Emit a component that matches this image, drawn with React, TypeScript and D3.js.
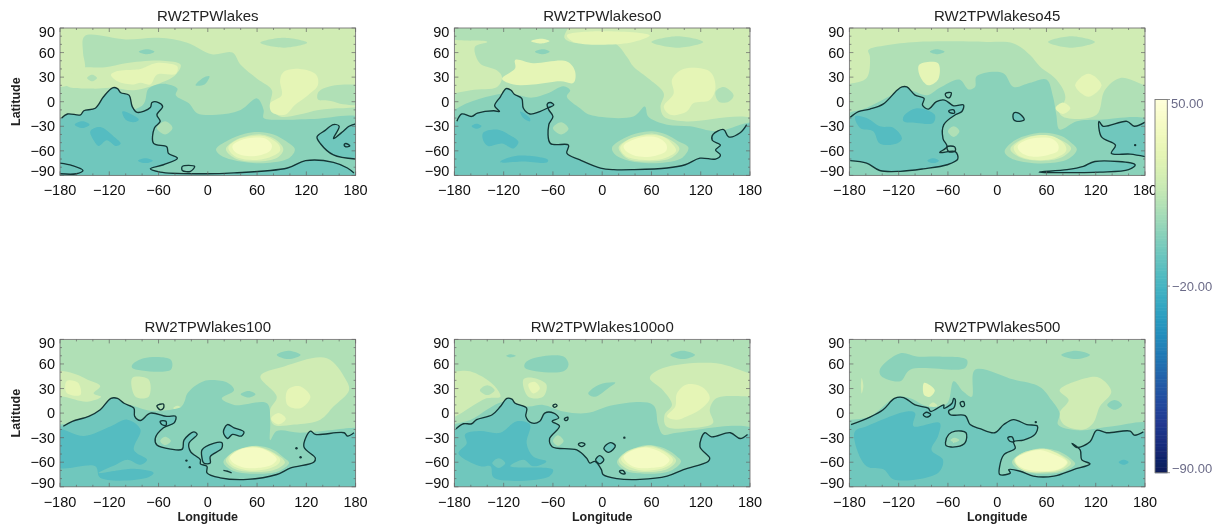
import * as d3 from "d3";

type Ring = [number, number][];
type Band = [number, Ring];

const lonTicks = [-180, -120, -60, 0, 60, 120, 180];
const latTicks = [90, 60, 30, 0, -30, -60, -90];
const barTicks = [50, -20, -90];

// RW2TPWlakes
const lakesCoastW: Ring = [[-178,-20],[-171,-15],[-155,-16],[-151,-11],[-137,-8],[-127,6],[-116,17],[-110,16],[-106,11],[-96,8],[-92,-6],[-86,-13],[-70,-7],[-68,-1],[-60,-1],[-55,-6],[-62,-16],[-58,-24],[-65,-32],[-66,-51],[-50,-55],[-48,-63],[-37,-69],[-54,-77],[-70,-82],[-58,-86],[-9,-88],[32,-87],[97,-81],[119,-72],[153,-74],[170,-81],[178,-87]];
const lakesCoastE: Ring = [[180,-70],[153,-65],[137,-51],[133,-43],[143,-35],[153,-28],[160,-30],[153,-45],[165,-36],[172,-30],[180,-27]];
const lakesLobe: Ring = [[-180,-75],[-165,-78],[-152,-84],[-160,-88],[-180,-88]];
const lakesIslands: Ring[] = [[[-31,-79],[-16,-79],[-21,-85],[-31,-84]],[[168,-51],[173,-54],[168,-55],[166,-53]]];
const lakesBands: Band[] = [
  [10, [[-150,80],[-100,76],[-60,78],[-25,72],[5,58],[30,60],[40,45],[60,28],[78,14],[76,-5],[88,-18],[110,-16],[135,-10],[165,-8],[190,-10],[190,-100],[-190,-100],[-190,14],[-170,20],[-150,40],[-152,60]]],
  [20, [[-172,20],[-140,16],[-118,17],[-90,14],[-72,18],[-60,22],[-40,32],[-33,45],[-55,50],[-100,47],[-125,42],[-150,42],[-160,40]]],
  [30, [[-118,33],[-112,37],[-92,39],[-82,40],[-64,47],[-50,47],[-37,43],[-39,34],[-62,33],[-70,21],[-82,23],[-90,21],[-110,25]]],
  [10, [[-147,29],[-141,33],[-135,29],[-141,25]]],
  [10, [[190,17],[155,20],[135,12],[134,3],[150,1],[165,-3],[190,-2]]],
  [30, [[88,26],[92,36],[112,40],[132,33],[134,20],[122,8],[106,-4],[94,-16],[78,-13],[76,-2],[90,8]]],
  [10, [[64,72],[92,78],[121,72],[92,66]]],
  [0, [[-80,-5],[-72,16],[-54,22],[-37,16],[-39,8],[-23,-2],[-13,-14],[11,-16],[40,-10],[60,4],[68,-10],[68,-20],[85,-22],[130,-21],[190,-22],[190,-100],[-190,-100],[-190,-30]]],
  [0, [[-84,61],[-74,64],[-65,61],[-74,58]]],
  [0, [[-15,20],[-6,29],[2,31],[-4,21]]],
  [-7, [...lakesCoastW, [190,-90],[190,-100],[-190,-100],[-190,-20]]],
  [-7, [...lakesCoastE, [190,-27],[190,-70]]],
  [10, [[-62,-32],[-52,-24],[-43,-32],[-52,-40]]],
  [-15, [[-162,-28],[-153,-24],[-144,-28],[-153,-32]]],
  [-15, [[-143,-36],[-131,-31],[-114,-43],[-106,-51],[-112,-54],[-123,-47],[-133,-54],[-139,-47]]],
  [-15, [[-104,-12],[-92,-16],[-84,-22],[-90,-25],[-100,-22]]],
  [-15, [[-85,-72],[-76,-69],[-67,-72],[-76,-75]]],
  [10, [[10,-58],[25,-47],[45,-39],[62,-37],[80,-40],[95,-48],[106,-58],[100,-68],[80,-74],[55,-75],[30,-71],[15,-65]]],
  [20, [[22,-58],[32,-48],[48,-42],[65,-40],[82,-46],[92,-58],[85,-68],[60,-73],[35,-70]]],
  [30, [[25,-56],[35,-47],[55,-42],[72,-43],[86,-52],[88,-60],[75,-68],[50,-71],[32,-66]]],
  [40, [[30,-54],[40,-47],[55,-44],[70,-45],[78,-53],[76,-60],[65,-65],[45,-66],[33,-61]]],
];

// RW2TPWlakeso0
const o0Coast: Ring = [[-177,-24],[-171,-15],[-159,-18],[-152,-14],[-132,-11],[-125,-12],[-131,-5],[-124,6],[-117,16],[-111,14],[-107,9],[-98,4],[-96,-8],[-88,-15],[-76,-12],[-67,-8],[-59,-4],[-63,-1],[-67,-3],[-65,-10],[-60,-18],[-65,-28],[-63,-51],[-41,-53],[-43,-63],[-27,-71],[-2,-81],[14,-83],[38,-83],[79,-81],[101,-77],[119,-69],[138,-70],[144,-65],[138,-59],[144,-53],[134,-47],[135,-40],[148,-34],[154,-43],[168,-38],[176,-28]];
const o0Bands: Band[] = [
  [10, [[-190,100],[-40,100],[-46,78],[-35,72],[14,72],[30,55],[38,43],[58,27],[75,10],[71,-6],[75,-18],[100,-24],[190,-24],[190,-100],[-190,-100],[-190,3],[-160,14],[-128,18],[-122,30],[-128,38],[-149,47],[-155,67],[-140,73],[-190,79]]],
  [30, [[-122,28],[-106,41],[-106,51],[-84,47],[-43,49],[-33,37],[-35,23],[-51,25],[-84,21],[-108,21]]],
  [30, [[-43,81],[-3,86],[58,81],[34,72],[-35,73]]],
  [30, [[-87,74],[-74,77],[-64,74],[-74,71]]],
  [0, [[-82,61],[-72,64],[-64,61],[-72,58]]],
  [30, [[85,27],[99,40],[131,37],[138,18],[131,2],[111,-2],[103,-12],[83,-16],[75,-6],[87,10]]],
  [10, [[138,12],[148,18],[160,8],[154,0],[142,0]]],
  [10, [[60,73],[92,80],[123,73],[92,66]]],
  [0, [[-190,-20],[-120,10],[-85,5],[-67,10],[-47,19],[-39,14],[-43,6],[-27,-8],[-15,-16],[38,-18],[52,-6],[56,-18],[79,-28],[107,-30],[140,-36],[176,-26],[190,-25],[190,-100],[-190,-100]]],
  [-7, [...o0Coast, [190,-25],[190,-100],[-190,-100],[-190,-24]]],
  [10, [[-60,-32],[-50,-25],[-41,-33],[-50,-40]]],
  [-15, [[-159,-30],[-153,-27],[-147,-30],[-153,-33]]],
  [-15, [[-145,-38],[-128,-34],[-114,-40],[-102,-49],[-108,-57],[-122,-51],[-139,-54],[-145,-47]]],
  [-15, [[-124,-73],[-104,-66],[-66,-71],[-67,-74],[-96,-73],[-124,-74]]],
  [-15, [[-100,-12],[-88,-20],[-88,-24],[-96,-20]]],
  [10, [[12,-56],[26,-45],[45,-38],[60,-36],[78,-40],[92,-48],[105,-56],[98,-68],[78,-74],[52,-75],[28,-71],[15,-64]]],
  [20, [[20,-56],[30,-47],[48,-41],[62,-39],[80,-45],[94,-57],[85,-68],[58,-73],[30,-69]]],
  [30, [[22,-56],[33,-46],[52,-41],[72,-42],[84,-50],[90,-60],[76,-69],[48,-71],[28,-66]]],
  [40, [[26,-54],[36,-47],[50,-43],[68,-44],[78,-52],[78,-60],[65,-66],[45,-67],[30,-61]]],
];

// RW2TPWlakeso45
const o45CoastW: Ring = [[-179,-19],[-169,-12],[-155,-9],[-139,-3],[-122,14],[-116,18],[-110,18],[-100,8],[-89,4],[-91,-4],[-84,-9],[-74,0],[-64,2],[-53,-5],[-41,-4],[-43,-12],[-51,-16],[-65,-28],[-66,-45],[-61,-55],[-70,-62],[-51,-61],[-48,-70],[-61,-77],[-90,-82],[-118,-85],[-143,-84],[-159,-75],[-179,-72]];
const o45CoastE: Ring = [[180,-67],[162,-64],[139,-63],[144,-53],[127,-43],[124,-24],[129,-30],[158,-24],[167,-30],[180,-25]];
const o45South: Ring = [[51,-86],[85,-83],[105,-79],[119,-73],[168,-77],[160,-83],[125,-86]];
const o45Gulf: Ring = [[20,-14],[26,-14],[33,-22],[24,-24],[20,-22]];
const o45Islands: Ring[] = [[[-61,-55],[-52,-55],[-51,-60],[-59,-61]],[[-63,10],[-56,11],[-58,5],[-62,6]],[[-59,-11],[-53,-10],[-52,-14],[-58,-13]],o45Gulf,o45South];
const o45Bands: Band[] = [
  [10, [[-157,63],[-135,69],[-98,73],[-13,73],[20,71],[40,57],[52,43],[72,27],[83,6],[76,-14],[85,-20],[121,-16],[131,14],[150,29],[180,20],[190,18],[190,-100],[-190,-100],[-190,20],[-179,22],[-159,29],[-155,55]]],
  [30, [[-95,45],[-72,47],[-72,27],[-84,20],[-94,31]]],
  [10, [[62,73],[90,80],[119,73],[90,66]]],
  [0, [[-82,61],[-74,64],[-64,61],[-74,58]]],
  [30, [[95,20],[111,34],[127,20],[111,6]]],
  [30, [[71,-8],[80,-1],[89,-8],[80,-15]]],
  [0, [[-25,31],[7,35],[20,18],[40,23],[60,27],[68,6],[72,-16],[76,-34],[97,-24],[125,-22],[190,-25],[190,-100],[-190,-100],[-190,-20],[-160,-8],[-110,14],[-85,8],[-70,17],[-46,27],[-35,15],[-27,18]]],
  [-7, [...o45CoastW, [-190,-72],[-190,-19]]],
  [-7, [...o45CoastE, [190,-25],[190,-67]]],
  [-7, o45Gulf],
  [-7, o45South],
  [10, [[-60,-36],[-53,-30],[-46,-36],[-53,-43]]],
  [-15, [[-173,-18],[-159,-20],[-143,-30],[-126,-32],[-116,-45],[-122,-51],[-143,-51],[-151,-36],[-167,-32]]],
  [-15, [[-114,-18],[-98,-8],[-76,-16],[-78,-26],[-98,-26],[-114,-24]]],
  [-15, [[-85,-72],[-78,-69],[-71,-72],[-78,-75]]],
  [10, [[9,-61],[20,-48],[40,-40],[58,-38],[78,-42],[90,-50],[97,-58],[88,-69],[65,-75],[35,-74],[15,-68]]],
  [20, [[16,-58],[30,-46],[52,-41],[78,-47],[90,-57],[78,-68],[52,-72],[28,-68]]],
  [30, [[20,-56],[30,-47],[50,-41],[70,-43],[82,-52],[84,-60],[70,-69],[45,-71],[25,-65]]],
  [40, [[25,-54],[35,-47],[50,-44],[66,-45],[74,-52],[74,-60],[62,-65],[42,-67],[28,-61]]],
];

// RW2TPWlakes100
const l100Coast: Ring = [[-176,-16],[-165,-10],[-145,-4],[-131,4],[-118,18],[-110,18],[-102,12],[-90,6],[-89,-4],[-82,-9],[-70,0],[-50,-4],[-39,-4],[-41,-12],[-54,-18],[-64,-31],[-62,-39],[-45,-44],[-31,-44],[-29,-33],[-17,-23],[-13,-26],[-23,-37],[-21,-47],[-9,-57],[-9,-62],[-1,-65],[-1,-73],[15,-79],[48,-81],[84,-75],[101,-67],[129,-60],[131,-55],[117,-41],[125,-22],[131,-26],[166,-24],[170,-28],[178,-24]];
const l100Islands: Ring[] = [[[-62,9],[-54,11],[-54,6],[-58,4]],[[-58,-10],[-51,-10],[-51,-15],[-56,-14]],[[24,-14],[32,-18],[44,-23],[41,-28],[30,-26],[24,-31],[19,-23]],[[-7,-45],[7,-37],[17,-36],[17,-43],[3,-53],[3,-61],[-5,-61],[-7,-55]]];
const l100Bands: Band[] = [
  [20, [[-190,50],[-175,51],[-160,47],[-147,41],[-131,33],[-139,24],[-130,20],[-147,14],[-175,20],[-190,22]]],
  [30, [[-172,39],[-158,37],[-155,22],[-172,25]]],
  [20, [[-92,43],[-72,41],[-72,20],[-88,20]]],
  [20, [[-42,6],[-37,9],[-32,6],[-37,3]]],
  [20, [[64,45],[93,57],[145,67],[168,41],[172,28],[153,8],[137,-8],[105,-14],[80,-14],[76,4],[84,20]]],
  [30, [[97,28],[111,33],[125,20],[113,6],[97,10]]],
  [30, [[77,-7],[86,0],[95,-7],[86,-14]]],
  [0, [[84,71],[98,76],[113,71],[98,66]]],
  [0, [[-92,59],[-78,67],[-45,65],[-45,53],[-92,55]]],
  [0, [[-25,24],[-5,39],[24,37],[32,28],[17,18],[32,10],[72,12],[76,-12],[76,-33],[84,-22],[113,-24],[178,-18],[190,-18],[190,-100],[-190,-100],[-190,-18],[-165,-12],[-100,10],[-70,3],[-40,5],[-32,8],[-28,15]]],
  [0, [[40,23],[50,27],[58,23],[50,19]]],
  [-7, [...l100Coast, [190,-24],[190,-100],[-190,-100],[-190,-16]]],
  [-7, l100Islands[2]],
  [-7, l100Islands[3]],
  [10, [[-58,-34],[-52,-29],[-45,-34],[-52,-39]]],
  [-15, [[-185,-20],[-151,-28],[-118,-16],[-98,-8],[-82,-20],[-90,-45],[-74,-57],[-82,-63],[-98,-57],[-112,-63],[-133,-73],[-90,-68],[-66,-73],[-74,-79],[-131,-79],[-137,-65],[-185,-65]]],
  [10, [[19,-60],[30,-48],[45,-42],[60,-40],[80,-45],[92,-54],[99,-61],[86,-71],[55,-74],[30,-70]]],
  [20, [[22,-58],[32,-47],[50,-41],[62,-41],[80,-48],[94,-60],[82,-69],[55,-72],[32,-68]]],
  [30, [[25,-56],[36,-46],[54,-41],[70,-44],[88,-56],[86,-62],[74,-68],[50,-70],[30,-64]]],
  [40, [[27,-54],[38,-45],[55,-42],[70,-45],[84,-56],[78,-63],[60,-67],[42,-66],[30,-60]]],
];

// RW2TPWlakes100o0
const l100o0Coast: Ring = [[-178,-19],[-169,-13],[-159,-13],[-153,-8],[-134,-2],[-124,8],[-116,18],[-110,17],[-106,12],[-92,6],[-93,-4],[-86,-12],[-76,-10],[-70,0],[-59,0],[-53,-6],[-61,-10],[-52,-16],[-64,-31],[-61,-41],[-31,-45],[-19,-55],[-15,-61],[-9,-59],[-1,-69],[1,-75],[18,-80],[46,-81],[79,-77],[99,-69],[129,-59],[131,-55],[119,-41],[125,-24],[133,-29],[156,-24],[168,-31],[177,-26]];
const l100o0Islands: Ring[] = [[[-29,-38],[-25,-36],[-21,-38],[-25,-41]],[[2,-43],[10,-36],[16,-40],[8,-48]],[[-8,-57],[-3,-52],[2,-57],[-3,-62]],[[21,-71],[25,-70],[28,-74],[24,-74]],[[-60,9],[-57,11],[-55,9],[-58,7]],[[-46,-7],[-42,-5],[-42,-8],[-45,-9]]];
const l100o0Bands: Band[] = [
  [20, [[-190,52],[-179,51],[-161,51],[-133,35],[-124,20],[-141,18],[-179,-4],[-190,-6]]],
  [10, [[-149,28],[-140,34],[-131,28],[-140,22]]],
  [20, [[-96,41],[-84,43],[-68,35],[-72,20],[-90,20]]],
  [30, [[-90,35],[-82,38],[-76,30],[-84,24]]],
  [20, [[58,43],[74,55],[139,61],[180,49],[190,49],[190,20],[180,20],[139,18],[131,4],[135,-12],[111,-18],[78,-16],[76,-2],[85,10],[74,28]]],
  [30, [[91,24],[103,35],[123,31],[131,18],[119,4],[103,-4],[91,-8],[79,-4],[89,8]]],
  [0, [[83,71],[98,76],[113,71],[98,66]]],
  [0, [[-94,61],[-84,67],[-47,69],[-41,59],[-47,51],[-94,55]]],
  [0, [[-17,24],[-3,35],[16,37],[8,31],[-9,20]]],
  [0, [[-117,70],[-112,72],[-105,70],[-112,68]]],
  [0, [[-190,-20],[-160,-8],[-120,14],[-90,8],[-72,10],[-47,2],[-19,0],[14,10],[62,10],[68,-14],[74,-26],[91,-24],[190,-22],[190,-100],[-190,-100]]],
  [-7, [...l100o0Coast, [190,-26],[190,-100],[-190,-100],[-190,-19]]],
  [-7, l100o0Islands[1]],
  [-7, l100o0Islands[2]],
  [10, [[-60,-34],[-54,-27],[-47,-34],[-54,-40]]],
  [-15, [[-167,-26],[-150,-22],[-124,-24],[-104,-10],[-88,-14],[-92,-37],[-84,-53],[-68,-59],[-84,-65],[-96,-57],[-112,-65],[-60,-69],[-64,-77],[-132,-79],[-136,-65],[-148,-65],[-175,-49],[-165,-37]]],
  [-7, [[-134,-61],[-126,-55],[-118,-61],[-126,-67]]],
  [10, [[18,-60],[28,-48],[42,-42],[56,-39],[78,-44],[90,-52],[96,-59],[84,-70],[55,-74],[28,-70]]],
  [20, [[20,-58],[30,-47],[48,-41],[60,-40],[78,-47],[90,-58],[80,-68],[55,-72],[30,-68]]],
  [30, [[23,-56],[34,-46],[52,-41],[70,-44],[86,-56],[84,-62],[72,-68],[48,-70],[30,-64]]],
  [40, [[26,-53],[38,-45],[52,-42],[68,-46],[82,-57],[76,-64],[58,-67],[40,-66],[29,-59]]],
];

// RW2TPWlakes500
const l500Coast: Ring = [[-178,-14],[-155,-5],[-139,4],[-125,18],[-114,19],[-100,10],[-84,6],[-81,2],[-65,10],[-65,6],[-55,12],[-53,18],[-51,16],[-53,6],[-59,3],[-57,-2],[-39,-3],[-33,-14],[-21,-19],[-3,-24],[8,-14],[20,-8],[36,-14],[49,-16],[46,-26],[32,-33],[20,-35],[22,-43],[8,-51],[3,-65],[3,-75],[16,-73],[14,-69],[28,-71],[44,-77],[69,-77],[93,-69],[113,-62],[103,-57],[101,-45],[91,-37],[97,-42],[113,-35],[121,-21],[133,-24],[162,-22],[167,-27],[178,-23]];
const l500Lake: Ring = [[-63,-36],[-59,-26],[-51,-22],[-38,-24],[-39,-36],[-49,-41],[-62,-40]];
const l500Islands: Ring[] = [l500Lake,[[-90,-2],[-86,1],[-81,-2],[-86,-5]],[[-45,13],[-41,14],[-40,9],[-43,8]],[[13,-30],[18,-29],[20,-35],[15,-34]]];
const l500Bands: Band[] = [
  [0, [[-143,53],[-118,73],[-98,69],[-78,69],[-37,65],[-39,55],[-106,53],[-118,39],[-141,45]]],
  [20, [[76,28],[109,43],[125,43],[139,26],[125,8],[117,-12],[105,-20],[81,-14],[76,0],[87,16]]],
  [30, [[-89,37],[-76,28],[-82,20],[-89,22]]],
  [20, [[-83,9],[-78,13],[-73,9],[-78,5]]],
  [20, [[-165,43],[-163,33],[-165,24],[-166,33]]],
  [0, [[78,71],[96,76],[113,71],[96,66]]],
  [0, [[134,10],[143,16],[152,10],[143,4]]],
  [0, [[-27,53],[20,41],[52,32],[66,16],[76,0],[74,-14],[97,-21],[141,-16],[190,-15],[190,-100],[-190,-100],[-190,-14],[-155,-4],[-122,20],[-106,18],[-84,8],[-61,12],[-53,39],[-41,26],[-31,20]]],
  [-7, [...l500Coast, [190,-23],[190,-100],[-190,-100],[-190,-14]]],
  [-15, [[-173,-22],[-159,-16],[-110,2],[-100,0],[-102,-16],[-70,-12],[-72,-28],[-80,-45],[-66,-57],[-72,-73],[-126,-81],[-138,-69],[-159,-65],[-173,-37]]],
  [-15, [[148,-60],[154,-57],[160,-60],[154,-63]]],
  [0, l500Lake],
  [10, [[-57,-33],[-52,-30],[-46,-33],[-52,-36]]],
  [10, [[18,-60],[28,-50],[42,-45],[56,-43],[78,-48],[90,-56],[95,-62],[82,-71],[55,-74],[30,-71]]],
  [20, [[20,-58],[30,-49],[48,-44],[60,-44],[76,-50],[90,-61],[78,-70],[55,-72],[32,-69]]],
  [30, [[22,-57],[32,-49],[52,-44],[68,-47],[86,-60],[80,-67],[62,-72],[36,-71],[24,-64]]],
  [40, [[22,-56],[34,-49],[52,-45],[68,-50],[85,-60],[76,-68],[55,-71],[36,-69],[25,-63]]],
];

const colorOf = (v: number) => d3.interpolateYlGnBu((50 - v) / 140);
const fontFamily = '"Liberation Sans", Arial, sans-serif';

const lonScale = (x0: number) => d3.scaleLinear().domain([-180, 180]).range([x0, x0 + 295.6]);
const latScale = (y0: number) => d3.scaleLinear().domain([-90, 90]).range([y0 + 147.4, y0]);

interface PanelProps {
  id: string;
  title: string;
  x0: number;
  y0: number;
  base: number;
  bands: Band[];
  lines: Ring[];
  islands: Ring[];
  dots?: Ring;
  showLat?: boolean;
  showLon?: boolean;
}

function Panel({ id, title, x0, y0, base, bands, lines, islands, dots = [], showLat, showLon }: PanelProps) {
  const x = lonScale(x0);
  const y = latScale(y0);
  const closed = d3.line<[number, number]>().x((d) => x(d[0])).y((d) => y(d[1])).curve(d3.curveCatmullRomClosed.alpha(0.5));
  const open = d3.line<[number, number]>().x((d) => x(d[0])).y((d) => y(d[1])).curve(d3.curveCatmullRom.alpha(0.5));
  const minorLon = d3.range(-180, 181, 20);
  const minorLat = d3.range(-90, 91, 10);
  const bottom = y(-90);
  const top = y(90);
  const left = x(-180);
  const right = x(180);
  return (
    <g fontFamily={fontFamily}>
      <clipPath id={id}>
        <rect x={left} y={top} width={right - left} height={bottom - top} />
      </clipPath>
      <g clipPath={`url(#${id})`}>
        <rect x={left} y={top} width={right - left} height={bottom - top} fill={colorOf(base)} />
        {bands.map(([v, ring], i) => (
          <path key={i} d={closed(ring) ?? ""} fill={colorOf(v)} />
        ))}
        {lines.map((ring, i) => (
          <path key={i} d={open(ring) ?? ""} fill="none" stroke="#123536" strokeWidth={1.35} />
        ))}
        {islands.map((ring, i) => (
          <path key={i} d={closed(ring) ?? ""} fill="none" stroke="#123536" strokeWidth={1.35} />
        ))}
        {dots.map((d, i) => (
          <circle key={i} cx={x(d[0])} cy={y(d[1])} r={1.2} fill="#123536" />
        ))}
      </g>
      <rect x={left} y={top} width={right - left} height={bottom - top} fill="none" stroke="#777" strokeWidth={0.9} />
      {minorLon.map((t) => {
        const len = lonTicks.includes(t) ? 4 : 2;
        return (
          <g key={t} stroke="#666" strokeWidth={0.7}>
            <line x1={x(t)} x2={x(t)} y1={bottom} y2={bottom - len} />
            <line x1={x(t)} x2={x(t)} y1={top} y2={top + len} />
          </g>
        );
      })}
      {minorLat.map((t) => {
        const len = latTicks.includes(t) ? 4 : 2;
        return (
          <g key={t} stroke="#666" strokeWidth={0.7}>
            <line x1={left} x2={left + len} y1={y(t)} y2={y(t)} />
            <line x1={right} x2={right - len} y1={y(t)} y2={y(t)} />
          </g>
        );
      })}
      <text x={(left + right) / 2} y={y0 - 7} textAnchor="middle" fontSize={15} fill="#222">
        {title}
      </text>
      {lonTicks.map((t) => (
        <text key={t} x={x(t)} y={bottom + 20} textAnchor="middle" fontSize={14.5} fill="#111">
          {t < 0 ? `\u2212${-t}` : t}
        </text>
      ))}
      {latTicks.map((t) => (
        <text key={t} x={left - 5} y={Math.min(Math.max(y(t), top + 4), bottom - 4) + 5} textAnchor="end" fontSize={14.5} fill="#111">
          {t < 0 ? `\u2212${-t}` : t}
        </text>
      ))}
      {showLat && (
        <text transform={`translate(${left - 40},${y(0)}) rotate(-90)`} textAnchor="middle" fontSize={12.5} fontWeight="bold" fill="#222">
          Latitude
        </text>
      )}
      {showLon && (
        <text x={(left + right) / 2} y={bottom + 34} textAnchor="middle" fontSize={12.5} fontWeight="bold" fill="#222">
          Longitude
        </text>
      )}
    </g>
  );
}

function ColorBar() {
  const y = d3.scaleLinear().domain([-90, 50]).range([472.7, 99.5]);
  const cells = d3.range(-90, 50, 1);
  return (
    <g fontFamily={fontFamily}>
      {cells.map((v) => (
        <rect key={v} x={1155} y={y(v + 1)} width={12.3} height={y(v) - y(v + 1) + 0.5} fill={colorOf(v + 0.5)} />
      ))}
      <rect x={1155} y={99.5} width={12.3} height={373.2} fill="none" stroke="#777" strokeWidth={0.9} />
      {barTicks.map((t) => (
        <g key={t}>
          <line x1={1167.3} x2={1170} y1={y(t)} y2={y(t)} stroke="#777" strokeWidth={0.8} />
          <text x={t === 50 ? 1171 : 1172} y={y(t) + (t === 50 ? 8 : t === -90 ? 0 : 5)} fontSize={13} fill="#6b6b88">
            {t < 0 ? `\u2212${(-t).toFixed(2)}` : t.toFixed(2)}
          </text>
        </g>
      ))}
    </g>
  );
}

export default function App() {
  return (
    <svg width={1218} height={526} style={{ position: "absolute", left: 0, top: 0, background: "#fff" }}>
      <defs>
        <filter id="soft" x="0" y="0" width="100%" height="100%">
          <feGaussianBlur stdDeviation="0.55" />
        </filter>
      </defs>
      <g filter="url(#soft)">
        <Panel id="p1" title="RW2TPWlakes" x0={60} y0={28} base={20} bands={lakesBands} lines={[lakesCoastW, lakesCoastE, lakesLobe]} islands={lakesIslands} showLat />
        <Panel id="p2" title="RW2TPWlakeso0" x0={454.4} y0={28} base={20} bands={o0Bands} lines={[o0Coast]} islands={[]} />
        <Panel id="p3" title="RW2TPWlakeso45" x0={849.4} y0={28} base={20} bands={o45Bands} lines={[o45CoastW, o45CoastE]} islands={o45Islands} dots={[[168, -53]]} />
        <Panel id="p4" title="RW2TPWlakes100" x0={60} y0={339.4} base={10} bands={l100Bands} lines={[l100Coast, [[19, -70], [24, -71], [29, -73]]]} islands={l100Islands} dots={[[108, -43], [113, -54], [-26, -58], [-22, -66]]} showLat showLon />
        <Panel id="p5" title="RW2TPWlakes100o0" x0={454.4} y0={339.4} base={10} bands={l100o0Bands} lines={[l100o0Coast]} islands={l100o0Islands} dots={[[27, -30]]} showLon />
        <Panel id="p6" title="RW2TPWlakes500" x0={849.4} y0={339.4} base={10} bands={l500Bands} lines={[l500Coast]} islands={l500Islands} dots={[[47, -11]]} showLon />
        <ColorBar />
      </g>
    </svg>
  );
}
